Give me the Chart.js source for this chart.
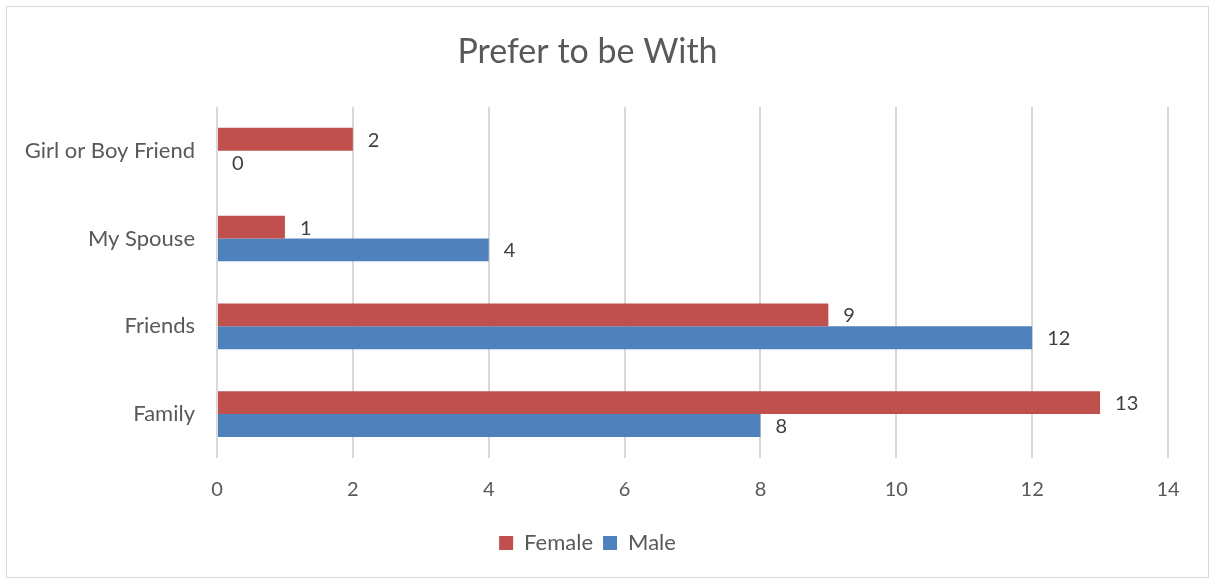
<!DOCTYPE html>
<html lang="en">
<head>
<meta charset="UTF-8">
<title>Prefer to be With</title>
<script src="https://cdn.jsdelivr.net/npm/chart.js"></script>
<style>
  body {
    margin: 0;
    padding: 0;
    background: #fff;
  }
  .chart-box {
    position: absolute;
    left: 6px;
    top: 6px;
    width: 1201px;
    height: 570px;
    border: 1px solid #d9d9d9;
  }
</style>
</head>
<body>
<div class="chart-box">
  <canvas id="barChart" width="1201" height="570"></canvas>
</div>
<script>
const categories = ['Girl or Boy Friend', 'My Spouse', 'Friends', 'Family'];
const femaleValues = [2, 1, 9, 13];
const maleValues = [0, 4, 12, 8];
const xTicks = [0, 2, 4, 6, 8, 10, 12, 14];

const fontFamily = 'Lato, "Open Sans", sans-serif';

// draws the value next to the end of each bar
const valueLabels = {
  id: 'valueLabels',
  afterDatasetsDraw(chart) {
    const ctx = chart.ctx;
    ctx.save();
    ctx.font = '20px ' + fontFamily;
    ctx.fillStyle = '#404040';
    ctx.textAlign = 'left';
    ctx.textBaseline = 'middle';
    chart.data.datasets.forEach((ds, i) => {
      const meta = chart.getDatasetMeta(i);
      meta.data.forEach((bar, j) => {
        ctx.fillText(ds.data[j], bar.x + 15, bar.y + 1);
      });
    });
    ctx.restore();
  }
};

const ctx = document.getElementById('barChart').getContext('2d');
new Chart(ctx, {
  type: 'bar',
  data: {
    labels: categories,
    datasets: [
      { label: 'Female', data: femaleValues, backgroundColor: '#C0504D', categoryPercentage: 0.52, barPercentage: 1 },
      { label: 'Male', data: maleValues, backgroundColor: '#4F81BD', categoryPercentage: 0.52, barPercentage: 1 }
    ]
  },
  options: {
    indexAxis: 'y',
    responsive: false,
    animation: false,
    layout: { padding: { left: 0, right: 40, top: 0, bottom: 13 } },
    plugins: {
      title: {
        display: true,
        text: 'Prefer to be With',
        color: '#595959',
        font: { family: fontFamily, size: 34, weight: 'normal' },
        padding: { top: 25, bottom: 34 }
      },
      legend: {
        position: 'bottom',
        labels: {
          color: '#595959',
          font: { family: fontFamily, size: 22 },
          boxWidth: 14,
          boxHeight: 14,
          padding: 10
        }
      },
      tooltip: { enabled: false }
    },
    scales: {
      x: {
        min: 0,
        max: 14,
        afterBuildTicks: (scale) => { scale.ticks = xTicks.map(v => ({ value: v })); },
        grid: { color: '#d9d9d9', lineWidth: 2, drawTicks: false },
        border: { display: false },
        ticks: { color: '#595959', font: { family: fontFamily, size: 20 }, padding: 20 }
      },
      y: {
        afterFit: (scale) => { scale.width = 210; },
        grid: { display: false, drawTicks: false },
        border: { display: false },
        ticks: { color: '#595959', font: { family: fontFamily, size: 22 }, padding: 22 }
      }
    }
  },
  plugins: [valueLabels]
});
</script>
</body>
</html>
